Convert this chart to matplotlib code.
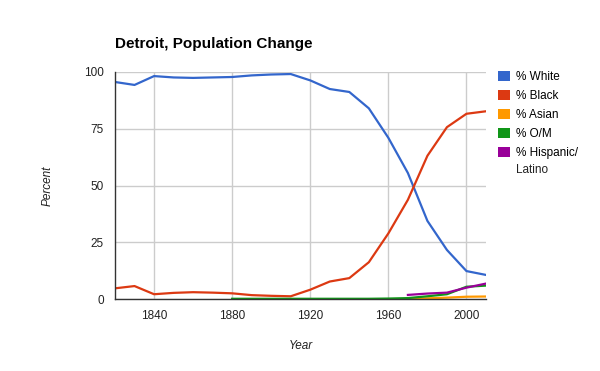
import matplotlib
matplotlib.use('Agg')
import matplotlib.pyplot as plt
from matplotlib.patches import Patch

plt.rcParams['font.family'] = ['Liberation Sans', 'DejaVu Sans']

years = [1820, 1830, 1840, 1850, 1860, 1870, 1880, 1890, 1900, 1910,
         1920, 1930, 1940, 1950, 1960, 1970, 1980, 1990, 2000, 2010]
white = [95.6, 94.3, 98.2, 97.6, 97.4, 97.6, 97.8, 98.5, 98.9, 99.1,
         96.3, 92.5, 91.2, 84.0, 71.0, 55.5, 34.4, 21.6, 12.3, 10.6]
black = [4.7, 5.7, 2.1, 2.7, 3.0, 2.8, 2.5, 1.7, 1.4, 1.2,
         4.1, 7.7, 9.2, 16.2, 28.9, 43.7, 63.1, 75.7, 81.6, 82.7]

asian_years = [1970, 1980, 1990, 2000, 2010]
asian = [0.1, 0.3, 0.6, 1.0, 1.1]

om_years = [1880, 1890, 1900, 1910, 1920, 1930, 1940, 1950, 1960, 1970, 1980, 1990, 2000, 2010]
om = [0.1, 0.1, 0.1, 0.1, 0.1, 0.1, 0.1, 0.1, 0.2, 0.4, 1.2, 2.1, 5.4, 5.9]

hisp_years = [1970, 1980, 1990, 2000, 2010]
hisp = [1.8, 2.4, 2.8, 5.0, 6.8]

labels = ['% White', '% Black', '% Asian', '% O/M', '% Hispanic/']
colors = ['#3366cc', '#dc3912', '#ff9900', '#109618', '#990099']

fig = plt.figure(figsize=(6, 3.71), dpi=100)
ax = fig.add_axes([115 / 600, 1 - 299 / 371, 371 / 600, 227 / 371])

ax.plot(years, white, color=colors[0], lw=1.6)
ax.plot(years, black, color=colors[1], lw=1.6)
ax.plot(asian_years, asian, color=colors[2], lw=1.6)
ax.plot(om_years, om, color=colors[3], lw=1.6)
ax.plot(hisp_years, hisp, color=colors[4], lw=1.6)

ax.set_xlim(1820, 2010)
ax.set_ylim(0, 100)
ax.set_xticks([1840, 1880, 1920, 1960, 2000])
ax.set_yticks([0, 25, 50, 75, 100])
ax.grid(True, color='#cccccc', lw=1)
ax.set_axisbelow(True)
for s in ['top', 'right']:
    ax.spines[s].set_visible(False)
for s in ['left', 'bottom']:
    ax.spines[s].set_color('#333333')
    ax.spines[s].set_linewidth(1)
ax.tick_params(length=0, labelsize=8.5, labelcolor='#222222', pad=8)

ax.set_xlabel('Year', style='italic', fontsize=8.5, color='#222222', labelpad=13)
ax.set_ylabel('Percent', style='italic', fontsize=8.5, color='#222222', labelpad=22)

fig.text(115 / 600, 1 - 44 / 371, 'Detroit, Population Change', fontsize=11,
         fontweight='bold', va='center', ha='left', color='#000000')

handles = [Patch(facecolor=c, edgecolor='none') for c in colors]
fig.legend(handles, labels, loc='upper left', bbox_to_anchor=(494 / 600, 1 - 67 / 371),
           frameon=False, fontsize=8.5, handlelength=1.05, handleheight=1.05,
           handletextpad=0.5, labelspacing=0.55, borderaxespad=0, borderpad=0.3)
fig.text(516 / 600, 1 - 170 / 371, 'Latino', fontsize=8.5, va='center', ha='left',
         color='#222222')

fig.savefig('out.png', dpi=100)
